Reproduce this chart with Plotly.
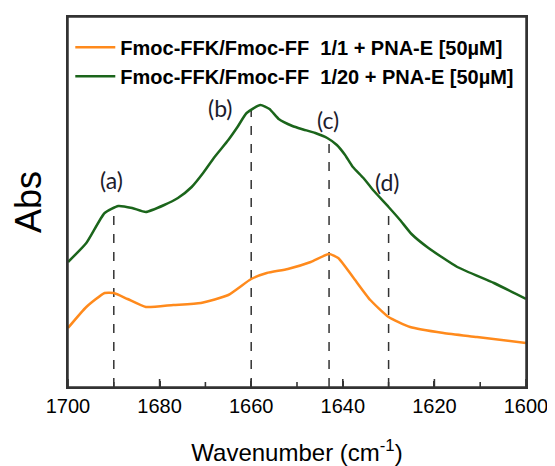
import numpy as np
import plotly.graph_objects as go

# Wavenumber (cm-1) and absorbance (a.u.)
wn_green = [1700, 1696, 1692, 1689, 1686, 1683, 1679, 1676, 1673, 1670.5, 1668, 1665, 1663, 1661,
            1658, 1656, 1654, 1651, 1649, 1646, 1643.4, 1641.3, 1639.5, 1637.8, 1635.5, 1633.4,
            1630, 1627.5, 1625, 1621.3, 1615, 1607, 1600]
abs_green = [0.125, 0.144, 0.174, 0.181, 0.179, 0.175, 0.182, 0.189, 0.200, 0.214, 0.230, 0.247,
             0.260, 0.274, 0.282, 0.278, 0.268, 0.261, 0.258, 0.254, 0.249, 0.242, 0.232, 0.220,
             0.209, 0.197, 0.180, 0.167, 0.153, 0.139, 0.120, 0.104, 0.088]

wn_orange = [1700, 1696, 1692, 1690, 1687, 1683, 1677, 1671, 1665, 1660, 1656.6, 1652, 1647, 1643,
             1641, 1637.8, 1634, 1630, 1625.3, 1618, 1610.7, 1600]
abs_orange = [0.059, 0.080, 0.094, 0.094, 0.088, 0.080, 0.082, 0.084, 0.092, 0.108, 0.114, 0.118,
              0.125, 0.133, 0.129, 0.110, 0.087, 0.070, 0.060, 0.054, 0.050, 0.044]

name_orange = "Fmoc-FFK/Fmoc-FF  1/1 + PNA-E [50µM]"
name_green = "Fmoc-FFK/Fmoc-FF  1/20 + PNA-E [50µM]"

band_pos = [1690, 1660, 1643, 1630]
band_labels = ["(a)", "(b)", "(c)", "(d)"]
label_x = [1690.4, 1666.8, 1643.2, 1630.3]
label_y = [0.207, 0.279, 0.267, 0.205]

major_ticks = [1700, 1680, 1660, 1640, 1620, 1600]
minor_ticks = [1690, 1670, 1650, 1630, 1610]

Y_MAX = 0.370
MAJOR_LEN = 0.008
MINOR_LEN = 0.005

fig = go.Figure()

# dashed band markers from axis to green curve
g_sorted = np.argsort(wn_green)
gx = np.array(wn_green)[g_sorted]
gy = np.array(abs_green)[g_sorted]
for xv in band_pos:
    top = float(np.interp(xv, gx, gy))
    fig.add_trace(go.Scatter(x=[xv, xv], y=[0, top], mode="lines",
                             line=dict(color="#333333", width=1.5, dash="dash"),
                             showlegend=False, hoverinfo="skip"))

# inside tick marks on the bottom axis, one small trace each
for vals, ln in ((major_ticks, MAJOR_LEN), (minor_ticks, MINOR_LEN)):
    for v in vals:
        fig.add_trace(go.Scatter(x=[v, v], y=[0, ln], mode="lines",
                                 line=dict(color="#333333", width=1.6),
                                 showlegend=False, hoverinfo="skip"))

fig.add_trace(go.Scatter(x=wn_orange, y=abs_orange, mode="lines", name=name_orange,
                         line=dict(color="#ff8a1c", width=2.5, shape="spline", smoothing=0.5)))
fig.add_trace(go.Scatter(x=wn_green, y=abs_green, mode="lines", name=name_green,
                         line=dict(color="#1b651b", width=2.5, shape="spline", smoothing=0.5)))

for t, xv, yv in zip(band_labels, label_x, label_y):
    fig.add_annotation(x=xv, y=yv, text=t, showarrow=False,
                       font=dict(family="Lato, Open Sans, sans-serif", size=23, color="#1c1c2c"))

# plot frame
fig.add_shape(type="rect", xref="paper", yref="paper", x0=0, x1=1, y0=0, y1=1,
              line=dict(color="#333333", width=1.5), layer="above")

fig.update_layout(
    width=547, height=458,
    margin=dict(l=60, r=29, t=9, b=79, autoexpand=False),
    paper_bgcolor="white", plot_bgcolor="white",
    font=dict(family="Liberation Sans, Arial, sans-serif", color="black"),
    legend=dict(x=0.005, y=0.971, xanchor="left", yanchor="top", bgcolor="rgba(0,0,0,0)",
                font=dict(family="Liberation Sans, Arial, sans-serif", size=20, color="black",
                          weight="bold"),
                tracegroupgap=0, itemwidth=40),
    showlegend=True,
)
fig.update_xaxes(range=[1700, 1600], tickmode="array", tickvals=major_ticks,
                 ticks="inside", ticklen=6, tickwidth=1.5, tickcolor="#333333",
                 showline=True, linecolor="#333333", linewidth=1.5, mirror=True,
                 showgrid=False, zeroline=False, tickfont=dict(size=20), automargin=False,
                 title=dict(text="Wavenumber (cm<sup>-1</sup>)", font=dict(size=24), standoff=29))
fig.update_yaxes(range=[0, Y_MAX], showticklabels=False, ticks="", showline=True, automargin=False,
                 linecolor="#333333", linewidth=1.5, mirror=True, showgrid=False, zeroline=False,
                 title=dict(text="Abs", font=dict(size=36), standoff=25))

fig.write_html("out.html")
